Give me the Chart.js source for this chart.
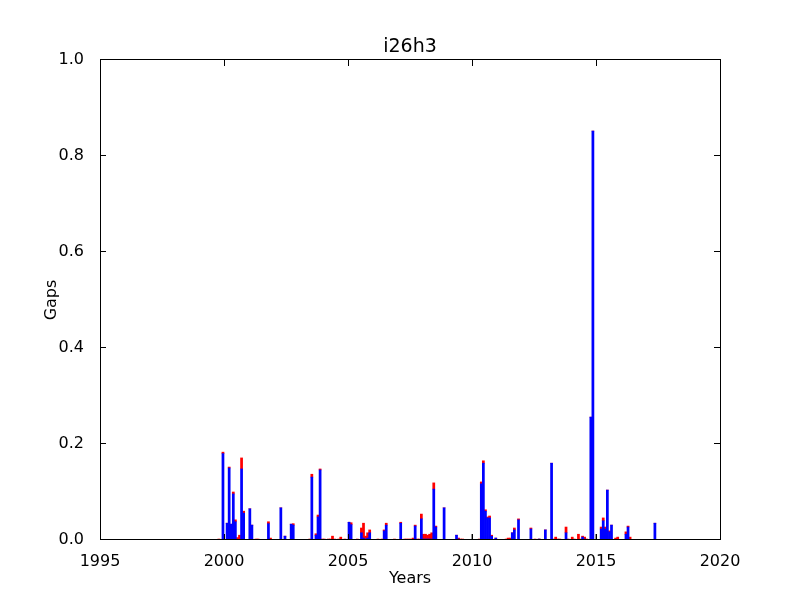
<!DOCTYPE html>
<html>
<head>
<meta charset="utf-8">
<title>i26h3</title>
<script src="https://cdn.jsdelivr.net/npm/chart.js@4.4.1/dist/chart.umd.min.js"></script>
<style>
  html, body { margin: 0; padding: 0; background: #fff; }
  canvas { display: block; }
</style>
</head>
<body>
<canvas id="gapsChart" width="800" height="600"></canvas>
<script>
// months with a gap value (bar covers the whole month)
const months = [
    '1999-10', '1999-12', '2000-02', '2000-03', '2000-04', '2000-05', '2000-06', '2000-07', '2000-08', '2000-09',
    '2000-10', '2001-01', '2001-02', '2001-04', '2001-05', '2001-10', '2001-11', '2002-04', '2002-06', '2002-09',
    '2002-10', '2003-06', '2003-07', '2003-09', '2003-10', '2003-11', '2003-12', '2004-01', '2004-03', '2004-04',
    '2004-05', '2004-06', '2004-08', '2004-09', '2004-11', '2005-01', '2005-02', '2005-05', '2005-07', '2005-08',
    '2005-09', '2005-10', '2005-11', '2006-03', '2006-05', '2006-06', '2006-07', '2006-11', '2007-02', '2007-04',
    '2007-05', '2007-06', '2007-07', '2007-08', '2007-09', '2007-10', '2007-11', '2007-12', '2008-01', '2008-02',
    '2008-03', '2008-04', '2008-05', '2008-06', '2008-07', '2008-11', '2009-05', '2009-06', '2009-07', '2009-08',
    '2010-04', '2010-05', '2010-06', '2010-07', '2010-08', '2010-09', '2010-10', '2010-12', '2011-05', '2011-06',
    '2011-07', '2011-08', '2011-09', '2011-11', '2012-05', '2012-07', '2012-09', '2012-12', '2013-03', '2013-04',
    '2013-05', '2013-06', '2013-07', '2013-10', '2013-11', '2014-01', '2014-02', '2014-04', '2014-05', '2014-06',
    '2014-07', '2014-08', '2014-10', '2014-11', '2015-03', '2015-04', '2015-05', '2015-06', '2015-07', '2015-08',
    '2015-10', '2015-11', '2016-03', '2016-04', '2016-05', '2017-05'
];
const blueGaps = [
    0, 0.180, 0.035, 0.150, 0.033, 0.096, 0.038, 0, 0, 0.148,
    0.056, 0.065, 0.031, 0, 0, 0.034, 0, 0.067, 0.008, 0.033,
    0.031, 0, 0.131, 0.010, 0.048, 0.146, 0, 0, 0, 0,
    0, 0, 0, 0, 0, 0.037, 0.032, 0, 0.015, 0.004,
    0.002, 0.004, 0.015, 0, 0, 0.019, 0.031, 0, 0.035, 0,
    0, 0, 0, 0, 0.029, 0, 0, 0.044, 0.002, 0.002,
    0.002, 0.002, 0.002, 0.106, 0.027, 0.067, 0.010, 0.002, 0, 0,
    0, 0.117, 0.160, 0.060, 0.046, 0.046, 0.008, 0.004, 0, 0,
    0, 0.015, 0.021, 0.042, 0.023, 0, 0.002, 0.021, 0.160, 0,
    0, 0, 0, 0.015, 0, 0, 0, 0, 0, 0.006,
    0.002, 0, 0.256, 0.852, 0.023, 0.040, 0.023, 0.104, 0.017, 0.031,
    0, 0, 0.012, 0.027, 0, 0.035
];
const redGaps = [
    0.002, 0.003, 0, 0.002, 0, 0.004, 0.004, 0.005, 0.010, 0.023,
    0.004, 0, 0, 0.002, 0.002, 0.004, 0.004, 0, 0, 0,
    0.003, 0.002, 0.006, 0.003, 0.004, 0.002, 0.002, 0.002, 0.002, 0.002,
    0.008, 0.002, 0.002, 0.006, 0.002, 0, 0.004, 0.002, 0.010, 0.031,
    0.006, 0.011, 0.006, 0.002, 0.002, 0.002, 0.004, 0.002, 0.002, 0.002,
    0.002, 0.002, 0.002, 0.004, 0.002, 0.002, 0.002, 0.010, 0.010, 0.010,
    0.008, 0.010, 0.013, 0.013, 0.002, 0, 0, 0.002, 0.002, 0.002,
    0.002, 0.004, 0.005, 0.003, 0.002, 0.004, 0.002, 0, 0.002, 0.004,
    0.004, 0, 0.004, 0.002, 0.002, 0.002, 0, 0, 0, 0.002,
    0.006, 0.002, 0.002, 0.012, 0.002, 0.006, 0.002, 0.012, 0.002, 0.002,
    0.004, 0.002, 0, 0, 0.004, 0.006, 0.004, 0, 0.002, 0,
    0.004, 0.006, 0.005, 0.002, 0.006, 0
];
// thin grey marks at the start of some years
const greyMonths = ['2000-01', '2010-01', '2015-01'];
const greyGaps = [0.012, 0.012, 0.012];

const yearTicks = [1995, 2000, 2005, 2010, 2015, 2020];
const gapTicks = [0, 0.2, 0.4, 0.6, 0.8, 1.0];
const chartTitle = 'i26h3';

// 'YYYY-MM' -> decimal year, at the middle of the month
const monthMid = m => {
    const [yy, mm] = m.split('-').map(Number);
    return yy + (mm - 1) / 12 + 1 / 24;
};
const monthStart = m => {
    const [yy, mm] = m.split('-').map(Number);
    return yy + (mm - 1) / 12;
};

Chart.defaults.font.family = "'DejaVu Sans', sans-serif";
Chart.defaults.font.size = 16;
Chart.defaults.color = '#000';

const TICK_LEN = 6;

// matplotlib-like frame with inward ticks on all four sides, title over the plot area
const frameTicks = {
    id: 'frameTicks',
    afterDraw(chart) {
        const { ctx, chartArea: a, scales: { x, y } } = chart;
        ctx.save();
        ctx.strokeStyle = '#000';
        ctx.lineWidth = 1;
        ctx.beginPath();
        x.ticks.forEach(t => {
            const px = Math.round(x.getPixelForValue(t.value)) + 0.5;
            ctx.moveTo(px, a.bottom);
            ctx.lineTo(px, a.bottom - TICK_LEN);
            ctx.moveTo(px, a.top);
            ctx.lineTo(px, a.top + TICK_LEN);
        });
        y.ticks.forEach(t => {
            const py = Math.round(y.getPixelForValue(t.value)) - 0.5;
            ctx.moveTo(a.left, py);
            ctx.lineTo(a.left + TICK_LEN, py);
            ctx.moveTo(a.right, py);
            ctx.lineTo(a.right - TICK_LEN, py);
        });
        ctx.stroke();
        ctx.strokeRect(Math.round(a.left) + 0.5, Math.round(a.top) - 0.5,
            Math.round(a.right - a.left), Math.round(a.bottom - a.top));

        ctx.fillStyle = '#000';
        ctx.font = "19px 'DejaVu Sans', sans-serif";
        ctx.textAlign = 'center';
        ctx.textBaseline = 'middle';
        ctx.fillText(chartTitle, (a.left + a.right) / 2, a.top - 13);
        ctx.restore();
    }
};

const ctx = document.getElementById('gapsChart').getContext('2d');
new Chart(ctx, {
    type: 'bar',
    data: {
        datasets: [
            {
                label: 'blue',
                data: months.map((m, i) => ({ x: monthMid(m), y: blueGaps[i] })),
                backgroundColor: '#0000ff',
                borderWidth: 0,
                barThickness: 24.8 / 12
            },
            {
                label: 'red',
                data: months.map((m, i) => ({ x: monthMid(m), y: redGaps[i] })),
                backgroundColor: '#ff0000',
                borderWidth: 0,
                barThickness: 24.8 / 12
            },
            {
                label: 'grey',
                data: greyMonths.map((m, i) => ({ x: monthStart(m), y: greyGaps[i] })),
                backgroundColor: '#808080',
                borderWidth: 0,
                barThickness: 1
            }
        ]
    },
    options: {
        responsive: false,
        animation: false,
        events: [],
        layout: { padding: { left: 0, right: 80, top: 60, bottom: 0 } },
        plugins: {
            legend: { display: false },
            tooltip: { enabled: false },
            title: { display: false }
        },
        scales: {
            x: {
                type: 'linear',
                stacked: true,
                offset: false,
                min: yearTicks[0],
                max: yearTicks[yearTicks.length - 1],
                grid: { display: false, offset: false },
                border: { display: false },
                afterBuildTicks: scale => {
                    scale.ticks = yearTicks.map(v => ({ value: v }));
                },
                ticks: {
                    autoSkip: false,
                    maxRotation: 0,
                    padding: 4,
                    callback: v => String(v)
                },
                title: {
                    display: true,
                    text: 'Years',
                    padding: { top: 0, bottom: 12 }
                },
                afterFit: scale => { scale.height = 60; }
            },
            y: {
                stacked: true,
                min: gapTicks[0],
                max: gapTicks[gapTicks.length - 1],
                grid: { display: false },
                border: { display: false },
                afterBuildTicks: scale => {
                    scale.ticks = gapTicks.map(v => ({ value: v }));
                },
                ticks: {
                    padding: 8,
                    callback: v => v.toFixed(1)
                },
                title: {
                    display: true,
                    text: 'Gaps',
                    padding: { top: 42, bottom: 0 }
                },
                afterFit: scale => { scale.width = 100; }
            }
        }
    },
    plugins: [frameTicks]
});
</script>
</body>
</html>
